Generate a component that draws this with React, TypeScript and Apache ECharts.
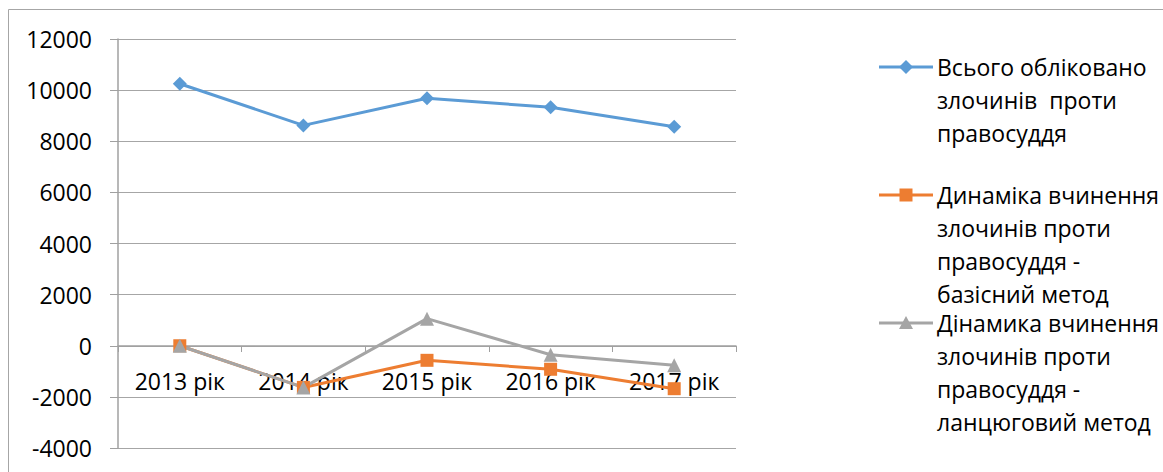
import React, { useEffect, useRef } from "react";
import * as echarts from "echarts";

const categories = ["2013 рік", "2014 рік", "2015 рік", "2016 рік", "2017 рік"];
const seriesNames = [
  "Всього обліковано\nзлочинів  проти\nправосуддя",
  "Динаміка вчинення\nзлочинів проти\nправосуддя -\nбазісний метод",
  "Дінамика вчинення\nзлочинів проти\nправосуддя -\nланцюговий метод",
];
const totalValues = [10250, 8620, 9680, 9330, 8570];
const baseValues = [0, -1630, -570, -920, -1680];
const chainValues = [0, -1630, 1060, -350, -760];
const yTicks = { min: -4000, max: 12000, interval: 2000 };

const colors = ["#5B9BD5", "#ED7D31", "#A5A5A5"];
const FONT = "Open Sans";
const FS = 23;

export default function App() {
  const ref = useRef<HTMLDivElement>(null);
  useEffect(() => {
    if (!ref.current) return;
    const chart = echarts.init(ref.current, undefined, { renderer: "svg" });
    const legendTops = [67, 195, 323];
    const symbolShapes = ["diamond", "rect", "triangle"];
    const legendGraphics: any[] = [];
    seriesNames.forEach((name, i) => {
      const cy = legendTops[i];
      legendGraphics.push({
        type: "line",
        shape: { x1: 879, y1: cy, x2: 933, y2: cy },
        style: { stroke: colors[i], lineWidth: 3 },
      });
      if (symbolShapes[i] === "diamond") {
        legendGraphics.push({
          type: "polygon",
          shape: { points: [[906, cy - 7], [913, cy], [906, cy + 7], [899, cy]] },
          style: { fill: colors[i] },
        });
      } else if (symbolShapes[i] === "rect") {
        legendGraphics.push({
          type: "rect",
          shape: { x: 899.5, y: cy - 6.5, width: 13, height: 13 },
          style: { fill: colors[i] },
        });
      } else {
        legendGraphics.push({
          type: "polygon",
          shape: { points: [[906, cy - 7], [913, cy + 6], [899, cy + 6]] },
          style: { fill: colors[i] },
        });
      }
      legendGraphics.push({
        type: "text",
        x: 937,
        y: cy - 16.5,
        style: {
          text: name,
          fill: "#000",
          fontFamily: FONT,
          fontSize: FS,
          lineHeight: 33,
          verticalAlign: "top",
          align: "left",
        },
      });
    });

    chart.setOption({
      animation: false,
      backgroundColor: "#fff",
      graphic: [
        {
          type: "rect",
          shape: { x: 8.5, y: 9.5, width: 1200, height: 500 },
          style: { fill: "none", stroke: "#A6A6A6", lineWidth: 1 },
          silent: true,
        },
        ...legendGraphics,
      ],
      grid: {
        left: 118,
        right: 427,
        top: 39,
        bottom: 24,
        containLabel: false,
        outerBoundsMode: "none",
      },
      xAxis: {
        type: "category",
        data: categories,
        boundaryGap: true,
        offset: -102,
        axisLine: { onZero: false, lineStyle: { color: "#A0A0A0", width: 1.5 } },
        axisTick: { show: true, length: 6, alignWithLabel: false, lineStyle: { color: "#A0A0A0" } },
        axisLabel: { color: "#000", fontFamily: FONT, fontSize: FS, margin: 23 },
        splitLine: { show: false },
      },
      yAxis: {
        type: "value",
        min: yTicks.min,
        max: yTicks.max,
        interval: yTicks.interval,
        axisLine: { show: true, lineStyle: { color: "#A0A0A0", width: 1.5 } },
        axisTick: { show: true, length: 8, lineStyle: { color: "#A0A0A0" } },
        axisLabel: {
          color: "#000",
          fontFamily: FONT,
          fontSize: FS,
          margin: 26,
          formatter: (v: number) => String(v),
        },
        splitLine: { show: true, lineStyle: { color: "#A6A6A6", width: 1 } },
      },
      series: [
        {
          name: seriesNames[0],
          type: "line",
          data: totalValues,
          symbol: "diamond",
          symbolSize: 14,
          lineStyle: { color: colors[0], width: 3 },
          itemStyle: { color: colors[0] },
        },
        {
          name: seriesNames[1],
          type: "line",
          data: baseValues,
          symbol: "rect",
          symbolSize: 13,
          lineStyle: { color: colors[1], width: 3 },
          itemStyle: { color: colors[1] },
        },
        {
          name: seriesNames[2],
          type: "line",
          data: chainValues,
          symbol: "triangle",
          symbolSize: 14,
          lineStyle: { color: colors[2], width: 3 },
          itemStyle: { color: colors[2] },
        },
      ],
    });
    return () => chart.dispose();
  }, []);
  return (
    <div
      ref={ref}
      style={{ position: "fixed", left: 0, top: 0, width: 1163, height: 472 }}
    />
  );
}
